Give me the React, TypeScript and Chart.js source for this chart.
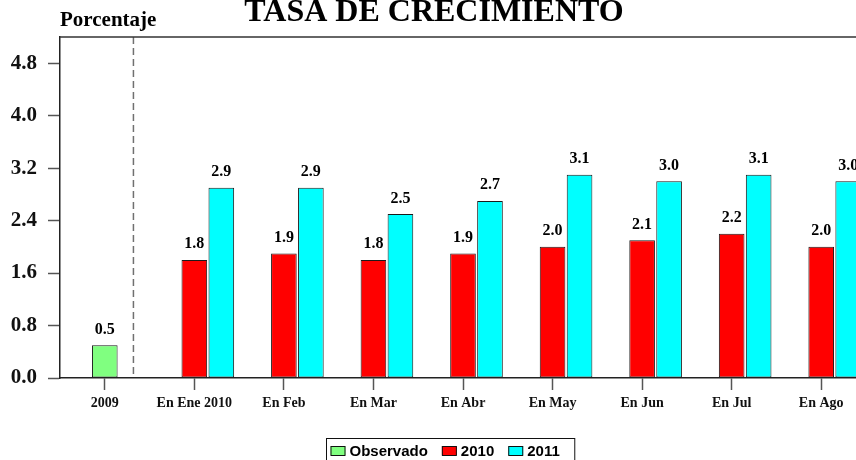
import React, { useEffect, useRef } from "react";
import { Chart, registerables } from "chart.js";

Chart.register(...registerables);

const categories = [
  "2009",
  "En Ene 2010",
  "En Feb",
  "En Mar",
  "En Abr",
  "En May",
  "En Jun",
  "En Jul",
  "En Ago",
];
const observado = [0.5, null, null, null, null, null, null, null, null];
const serie2010 = [null, 1.8, 1.9, 1.8, 1.9, 2.0, 2.1, 2.2, 2.0];
const serie2011 = [null, 2.9, 2.9, 2.5, 2.7, 3.1, 3.0, 3.1, 3.0];
const spacer = [null, null, null, null, null, null, null, null, null];
const yTicks = [0, 0.8, 1.6, 2.4, 3.2, 4.0, 4.8];
const yMax = 5.2;
const separatorAt = 0.32;
const titleText = "TASA DE CRECIMIENTO";
const yTitleText = "Porcentaje";

const SERIF = '"Liberation Serif", "Times New Roman", serif';
const SANS = '"Liberation Sans", Arial, sans-serif';

const decorPlugin = {
  id: "decor",
  beforeDatasetsDraw(chart: any) {
    const { ctx, chartArea: a, scales } = chart;
    const x = scales.x;
    const x0 = x.getPixelForValue(0);
    const x1 = x.getPixelForValue(1);
    const sx = x0 + separatorAt * (x1 - x0);
    ctx.save();
    ctx.strokeStyle = "#707070";
    ctx.lineWidth = 1.5;
    ctx.setLineDash([7, 4]);
    ctx.beginPath();
    ctx.moveTo(sx, a.top);
    ctx.lineTo(sx, a.bottom);
    ctx.stroke();
    ctx.restore();
  },
  afterDraw(chart: any) {
    const { ctx, chartArea: a } = chart;
    ctx.save();
    // top frame line
    ctx.strokeStyle = "#333";
    ctx.lineWidth = 1.5;
    ctx.beginPath();
    ctx.moveTo(a.left, a.top);
    ctx.lineTo(a.right, a.top);
    ctx.stroke();

    // title
    ctx.fillStyle = "#000";
    ctx.textBaseline = "alphabetic";
    ctx.textAlign = "center";
    ctx.font = `bold 32px ${SERIF}`;
    ctx.fillText(titleText, 434, 21);

    // y title
    ctx.textAlign = "left";
    ctx.font = `bold 21px ${SERIF}`;
    ctx.fillText(yTitleText, a.left, 26);

    // value labels
    ctx.textAlign = "center";
    ctx.font = `bold 16px ${SERIF}`;
    chart.data.datasets.forEach((ds: any, i: number) => {
      if (ds.isSpacer) return;
      const meta = chart.getDatasetMeta(i);
      meta.data.forEach((bar: any, j: number) => {
        const v = ds.data[j];
        if (v === null || v === undefined) return;
        ctx.fillText(Number(v).toFixed(1), bar.x, bar.y - 11.5);
      });
    });

    // legend
    const items = chart.data.datasets.filter((d: any) => !d.isSpacer);
    ctx.font = `bold 15px ${SANS}`;
    const sw = 15, sh = 9, gapText = 4, gapItem = 14, padL = 4, padR = 15;
    let total = padL + padR;
    items.forEach((d: any, k: number) => {
      total += sw + gapText + ctx.measureText(d.label).width;
      if (k < items.length - 1) total += gapItem;
    });
    const center = 450.5;
    const L = Math.round(center - total / 2) + 0.5;
    const top = 438.5;
    ctx.strokeStyle = "#111";
    ctx.lineWidth = 1;
    ctx.strokeRect(L, top, total, 40);
    let cx = L + padL;
    ctx.textAlign = "left";
    ctx.textBaseline = "middle";
    items.forEach((d: any) => {
      ctx.fillStyle = d.backgroundColor;
      ctx.fillRect(cx, 446, sw, sh);
      ctx.strokeStyle = "#111";
      ctx.strokeRect(cx + 0.5, 446.5, sw - 1, sh);
      ctx.fillStyle = "#000";
      const tx = cx + sw + gapText;
      ctx.fillText(d.label, tx, 451.5);
      cx = tx + ctx.measureText(d.label).width + gapItem;
    });
    ctx.restore();
  },
};

export default function App() {
  const ref = useRef<HTMLCanvasElement | null>(null);

  useEffect(() => {
    if (!ref.current) return;
    const barCommon = {
      borderColor: "#1a1a1a",
      borderWidth: 1,
      borderSkipped: false,
    };
    const chart = new Chart(ref.current, {
      type: "bar",
      data: {
        labels: categories,
        datasets: [
          {
            label: "",
            data: spacer,
            stack: "s0",
            backgroundColor: "rgba(0,0,0,0)",
            isSpacer: true,
            ...barCommon,
          } as any,
          {
            label: "Observado",
            data: observado,
            stack: "s1",
            backgroundColor: "#80FF80",
            ...barCommon,
          },
          {
            label: "2010",
            data: serie2010,
            stack: "s1",
            backgroundColor: "#FF0000",
            ...barCommon,
          },
          {
            label: "2011",
            data: serie2011,
            stack: "s2",
            backgroundColor: "#00FFFF",
            ...barCommon,
          },
        ],
      },
      options: {
        responsive: false,
        animation: false,
        events: [],
        layout: { padding: { top: 37, right: 34, bottom: 42, left: 0 } },
        datasets: {
          bar: { categoryPercentage: 0.904, barPercentage: 0.95 },
        },
        plugins: {
          legend: { display: false },
          tooltip: { enabled: false },
          title: { display: false },
        },
        scales: {
          x: {
            offset: true,
            grid: {
              display: true,
              offset: false,
              drawOnChartArea: false,
              drawTicks: true,
              tickLength: 12,
              color: "#555",
              tickColor: "#555",
              tickWidth: 1.5,
            },
            border: { display: true, color: "#222", width: 1.5 },
            ticks: {
              autoSkip: false,
              maxRotation: 0,
              padding: 5,
              color: "#111",
              font: { family: SERIF, size: 14, weight: "bold" },
            },
            afterFit: (s: any) => {
              s.height = 40;
            },
          },
          y: {
            min: 0,
            max: yMax,
            afterBuildTicks: (s: any) => {
              s.ticks = yTicks.map((v) => ({ value: v }));
            },
            grid: {
              display: true,
              drawOnChartArea: false,
              drawTicks: true,
              tickLength: 12,
              color: "#555",
              tickColor: "#555",
              tickWidth: 1.5,
            },
            border: { display: true, color: "#222", width: 1.5 },
            ticks: {
              padding: 11,
              color: "#111",
              font: { family: SERIF, size: 21, weight: "bold" },
              callback: (v: any) => Number(v).toFixed(1),
            },
            afterFit: (s: any) => {
              s.width = 60;
            },
          },
        },
      } as any,
      plugins: [decorPlugin],
    });
    return () => chart.destroy();
  }, []);

  return (
    <div
      style={{
        position: "fixed",
        left: 0,
        top: 0,
        width: 856,
        height: 460,
        overflow: "hidden",
        background: "#fff",
      }}
    >
      <canvas ref={ref} width={900} height={460} style={{ display: "block" }} />
    </div>
  );
}
